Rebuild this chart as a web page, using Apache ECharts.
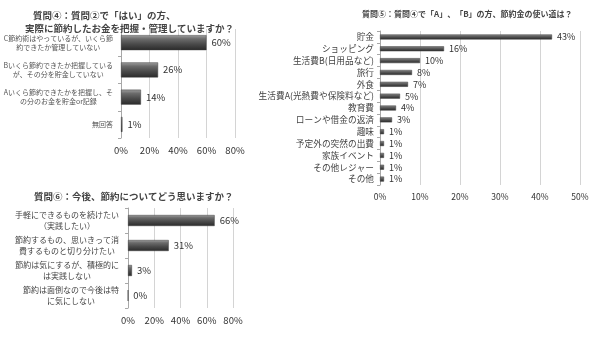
<!DOCTYPE html>
<html>
<head>
<meta charset="utf-8">
<script src="https://cdn.jsdelivr.net/npm/echarts@6/dist/echarts.min.js"></script>
<style>html,body{margin:0;padding:0;background:#fff}#c{width:600px;height:340px}</style>
</head>
<body>
<div id="c"></div>
<script>
var q4Categories = [
  'C節約術はやっているが、いくら節\n約できたか管理していない',
  'Bいくら節約できたか把握している\nが、その分を貯金していない',
  'Aいくら節約できたかを把握し、そ\nの分のお金を貯金or記録',
  '無回答'
];
var q4Values = [60, 26, 14, 1];

var q5Categories = [
  '貯金', 'ショッピング', '生活費B(日用品など)', '旅行', '外食',
  '生活費A(光熱費や保険料など)', '教育費', 'ローンや借金の返済', '趣味',
  '予定外の突然の出費', '家族イベント', 'その他レジャー', 'その他'
];
var q5Values = [43, 16, 10, 8, 7, 5, 4, 3, 1, 1, 1, 1, 1];

var q6Categories = [
  '手軽にできるものを続けたい\n（実践したい）',
  '節約するもの、思いきって消\n費するものと切り分けたい',
  '節約は気にするが、積極的に\nは実践しない',
  '節約は面倒なので今後は特\nに気にしない'
];
var q6Values = [66, 31, 3, 0];

var q4Ticks = [0, 80, 20];
var q5Ticks = [0, 50, 10];
var q6Ticks = [0, 80, 20];

var FONT = '"Noto Sans CJK JP", "Noto Sans", sans-serif';
var barColor = {
  type: 'linear', x: 0, y: 0, x2: 0, y2: 1,
  colorStops: [
    {offset: 0, color: '#a0a0a0'},
    {offset: 0.25, color: '#6c6c6c'},
    {offset: 0.6, color: '#4a4a4a'},
    {offset: 1, color: '#2a2a2a'}
  ]
};

function xAx(idx, t, fs) {
  return {
    type: 'value', gridIndex: idx, min: t[0], max: t[1], interval: t[2],
    axisLine: {show: false}, axisTick: {show: false},
    axisLabel: {formatter: '{value}%', fontSize: fs, color: '#333', fontFamily: FONT, margin: 8},
    splitLine: {show: true, lineStyle: {color: '#d4d4d4', width: 1}}
  };
}
function yAx(idx, cats, fs, lh, margin, color, centered) {
  var lbl = {fontSize: fs, lineHeight: lh, color: color, fontFamily: FONT, margin: margin, align: 'right'};
  if (centered) {
    lbl.formatter = function (v) {
      return v.split('\n').map(function (s) { return '{c|' + s + '}'; }).join('\n');
    };
    lbl.rich = {c: {align: 'center', fontSize: fs, lineHeight: lh, color: color, fontFamily: FONT}};
  }
  return {
    type: 'category', gridIndex: idx, data: cats, inverse: true,
    axisLine: {show: true, lineStyle: {color: '#a8a8a8'}},
    axisTick: {show: true, length: 3, lineStyle: {color: '#a8a8a8'}},
    axisLabel: lbl,
    splitLine: {show: false}
  };
}
function ser(idx, vals, bw, fs) {
  return {
    type: 'bar', xAxisIndex: idx, yAxisIndex: idx, data: vals, barWidth: bw,
    itemStyle: {color: barColor, borderColor: '#3a3a3a', borderWidth: 0.5},
    label: {show: true, position: 'right', distance: 5, formatter: '{c}%', fontSize: fs, color: '#333', fontFamily: FONT},
    animation: false
  };
}

var chart = echarts.init(document.getElementById('c'), null, {renderer: 'canvas'});
chart.setOption({
  backgroundColor: '#fff',
  animation: false,
  title: [
    {text: '質問④：質問②で「はい」の方、', left: 28, top: 6, textStyle: {fontSize: 9.5, fontWeight: 'bold', color: '#444', fontFamily: FONT}},
    {text: '実際に節約したお金を把握・管理していますか？', left: 20, top: 19, textStyle: {fontSize: 9.5, fontWeight: 'bold', color: '#444', fontFamily: FONT}},
    {text: '質問⑤：質問④で「A」、「B」の方、節約金の使い道は？', left: 357, top: 5, textStyle: {fontSize: 8, fontWeight: 'bold', color: '#444', fontFamily: FONT}},
    {text: '質問⑥：今後、節約についてどう思いますか？', left: 29, top: 187, textStyle: {fontSize: 9.5, fontWeight: 'bold', color: '#444', fontFamily: FONT}}
  ],
  grid: [
    {left: 121, top: 29, width: 114, height: 109, containLabel: false},
    {left: 380, top: 31, width: 200, height: 154, containLabel: false},
    {left: 128, top: 208, width: 105, height: 100, containLabel: false}
  ],
  xAxis: [xAx(0, q4Ticks, 9.5), xAx(1, q5Ticks, 8.5), xAx(2, q6Ticks, 9.5)],
  yAxis: [
    yAx(0, q4Categories, 7, 9, 8, '#555', true),
    yAx(1, q5Categories, 8.7, 10, 6, '#444', false),
    yAx(2, q6Categories, 8, 11, 9, '#444', true)
  ],
  series: [ser(0, q4Values, 15, 9.5), ser(1, q5Values, 5, 9), ser(2, q6Values, 11, 9.5)]
});
</script>
</body>
</html>
